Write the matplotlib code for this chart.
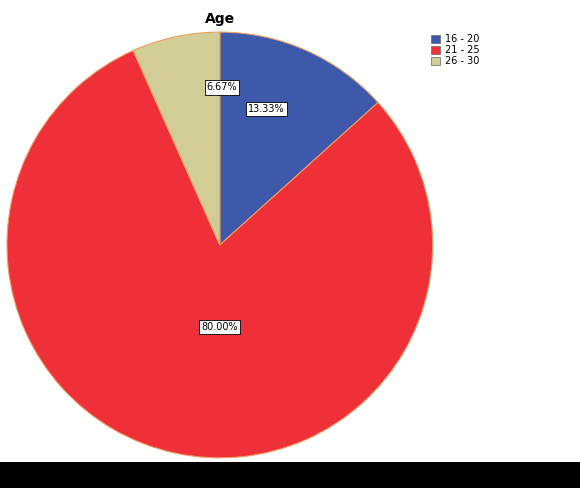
import matplotlib
matplotlib.use("Agg")
import matplotlib.pyplot as plt
import matplotlib.patches as mpatches

categories = ["16 - 20", "21 - 25", "26 - 30"]
values = [13.33, 80.00, 6.67]
colors = ["#3E58AC", "#EF3038", "#D2CC96"]

fig = plt.figure(figsize=(5.8, 4.88), dpi=100)
fig.patch.set_facecolor("white")
ax = fig.add_axes([0.012, 0.0615, 0.734, 0.873])
wedges, texts, autotexts = ax.pie(values, colors=colors, startangle=90, counterclock=False,
                                  autopct="%.2f%%", pctdistance=0.6,
                                  wedgeprops=dict(edgecolor="#E8A060", linewidth=0.8),
                                  textprops=dict(fontsize=7))
pos = [(0.22, 0.64), (0.0, -0.385), (0.01, 0.74)]
for t, p in zip(autotexts, pos):
    t.set_position(p)
    t.set_ha("center"); t.set_va("center")
    t.set_bbox(dict(facecolor="white", edgecolor="black", linewidth=0.6, pad=1.5))
ax.set_aspect("equal")
ax.set_xlim(-1.0, 1.0); ax.set_ylim(-1.0, 1.0)

fig.text(0.379, 0.962, "Age", ha="center", va="center", fontsize=10, fontweight="bold")
handles = [mpatches.Patch(facecolor=c, edgecolor="#666666", linewidth=0.5) for c in colors]
fig.legend(handles, categories, loc="upper left", bbox_to_anchor=(0.735, 0.94),
           frameon=False, fontsize=7, handlelength=0.9, handleheight=0.9,
           handletextpad=0.5, labelspacing=0.1, borderpad=0)
fig.add_artist(mpatches.Rectangle((0, 0), 1, 26/488, transform=fig.transFigure,
                                  facecolor="black", edgecolor="none"))
fig.savefig("out.png", dpi=100)
